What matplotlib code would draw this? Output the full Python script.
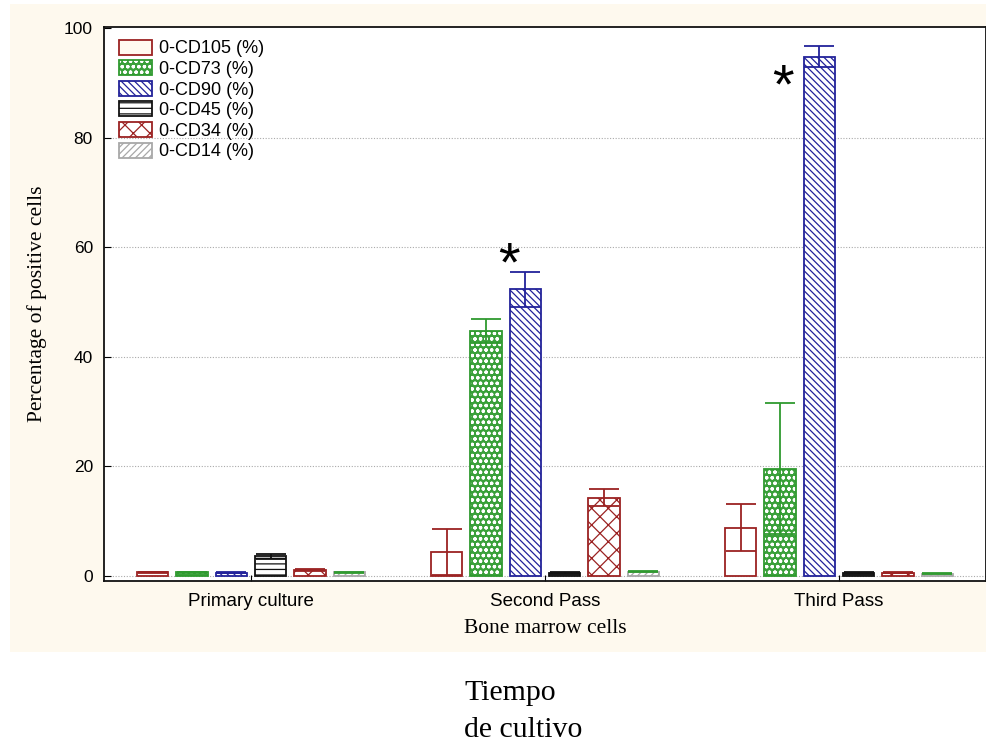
import matplotlib
matplotlib.use("Agg")
import matplotlib.pyplot as plt
import numpy as np
from matplotlib.patches import Patch, Rectangle
from matplotlib.legend_handler import HandlerTuple

categories = ['Primary culture', 'Second Pass', 'Third Pass']
series_names = ['0-CD105 (%)', '0-CD73 (%)', '0-CD90 (%)', '0-CD45 (%)', '0-CD34 (%)', '0-CD14 (%)']

cd105 = [0.7, 4.4, 8.8]
cd105_err = [0.1, 4.2, 4.3]
cd73 = [0.7, 44.8, 19.6]
cd73_err = [0.1, 2.2, 12.0]
cd90 = [0.6, 52.3, 94.8]
cd90_err = [0.1, 3.2, 1.9]
cd45 = [3.6, 0.5, 0.5]
cd45_err = [0.5, 0.2, 0.2]
cd34 = [1.1, 14.3, 0.6]
cd34_err = [0.1, 1.6, 0.1]
cd14 = [0.7, 0.8, 0.4]
cd14_err = [0.1, 0.1, 0.1]

star_labels = ['*', '*']
star_x = [0.878, 1.81]
star_y = [56.5, 89.0]

values = [cd105, cd73, cd90, cd45, cd34, cd14]
errors = [cd105_err, cd73_err, cd90_err, cd45_err, cd34_err, cd14_err]

red = '#9b2222'
green = '#2f9a2f'
blue = '#22229a'
black = '#111111'
gray = '#a8a8a8'
styles = [
    dict(face='white', edge=red, hatch=None, ecol=red),
    dict(face='#3aa03a', edge=green, hatch='ooo', ecol=green, inv=True),
    dict(face='white', edge=blue, hatch='\\\\\\\\\\', ecol=blue),
    dict(face='white', edge=black, hatch='---', ecol=black),
    dict(face='white', edge=red, hatch='xx', ecol=red),
    dict(face='white', edge=gray, hatch='/////', ecol=green),
]

plt.rcParams['hatch.linewidth'] = 0.9
fig = plt.figure(figsize=(9.87, 7.44), dpi=100, facecolor='white')
fig.patches.append(Rectangle((10/987, 1-652/744), 977/987, 648/744, transform=fig.transFigure,
                             facecolor='#fef9ee', edgecolor='none', zorder=-10))
ax = fig.add_axes([104/987, 1-581/744, 882/987, 554/744])
ax.set_facecolor('white')

x = np.arange(len(categories))
step = 0.1337
width = 0.107
handles = []
for i, (vals, errs, st) in enumerate(zip(values, errors, styles)):
    pos = x + (i - 2.5) * step
    if st.get('inv'):
        ax.bar(pos, vals, width, color=st['face'], edgecolor='white', hatch=st['hatch'], linewidth=0, zorder=2)
        ax.bar(pos, vals, width, fill=False, edgecolor=st['edge'], linewidth=1.3, zorder=3)
        h = (Patch(facecolor=st['face'], edgecolor='white', hatch=st['hatch'], linewidth=0),
             Patch(fill=False, edgecolor=st['edge'], linewidth=1.3))
    else:
        ax.bar(pos, vals, width, color=st['face'], edgecolor=st['edge'], hatch=st['hatch'], linewidth=1.3, zorder=2)
        h = Patch(facecolor='#fffaf0' if st['hatch'] is None else 'white', edgecolor=st['edge'],
                  hatch=st['hatch'], linewidth=1.3)
    ax.errorbar(pos, vals, yerr=errs, fmt='none', ecolor=st['ecol'], elinewidth=1.3,
                capsize=11, capthick=1.3, zorder=4)
    handles.append(h)

for lab, sx, sy in zip(star_labels, star_x, star_y):
    ax.text(sx, sy, lab, ha='center', va='center', fontsize=40, family='Liberation Sans', color='black')

ax.set_xlim(-0.5, 2.5)
ax.set_ylim(-0.9, 100.2)
ax.set_yticks([0, 20, 40, 60, 80, 100])
ax.set_xticks(x)
ax.set_xticklabels(categories, family='Liberation Sans', fontsize=13.5)
ax.tick_params(axis='y', direction='in', length=5, labelsize=12.5, pad=8)
ax.tick_params(axis='x', direction='in', length=4, pad=9)
for lab in ax.get_yticklabels():
    lab.set_family('Liberation Sans')
for gy in [0, 20, 40, 60, 80]:
    ax.axhline(gy, color='#aaaaaa', linestyle=(0, (1, 1.5)), linewidth=0.8, zorder=0)
for sp in ax.spines.values():
    sp.set_linewidth(1.3)
    sp.set_color('#111111')

ax.set_ylabel('Percentage of positive cells', family='Liberation Serif', fontsize=15.5, labelpad=12)
ax.set_xlabel('Bone marrow cells', family='Liberation Serif', fontsize=15.5, labelpad=6)

ax.legend(handles, series_names, loc='upper left', frameon=False,
          prop={'family': 'Liberation Sans', 'size': 13},
          handler_map={tuple: HandlerTuple(ndivide=1, pad=0)},
          handlelength=1.8, handleheight=0.9, labelspacing=0.16, handletextpad=0.4,
          borderaxespad=0.3, bbox_to_anchor=(0.003, 1.0))

fig.text(464/987, 1-693/744, 'Tiempo', family='Liberation Serif', fontsize=21.5, ha='left', va='center')
fig.text(464/987, 1-730/744, 'de cultivo', family='Liberation Serif', fontsize=21.5, ha='left', va='center')

fig.savefig('out.png', dpi=100, facecolor='white')
